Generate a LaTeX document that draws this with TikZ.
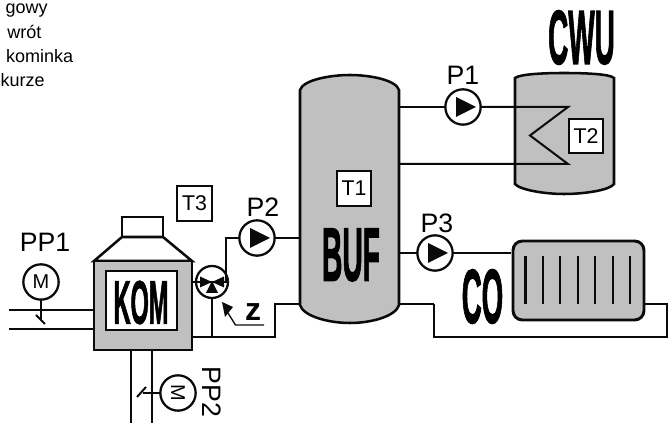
\documentclass[tikz,border=0pt]{standalone}
\usepackage{fontspec}
\setmainfont{Liberation Sans}
\newfontfamily\heavyf[UprightFont=* Bold,FakeBold=2]{Liberation Sans}
\definecolor{tankgray}{RGB}{192,192,192}
\definecolor{inkc}{RGB}{10,10,10}
\tikzset{
  pipe/.style={draw=inkc,line width=2pt,line join=miter},
  pipethin/.style={draw=inkc,line width=1.5pt,line join=miter},
  outline/.style={draw=inkc,line width=1.9pt,fill=tankgray},
  circ/.style={circle,draw=inkc,line width=1.7pt,fill=white,minimum size=26.5pt,inner sep=0pt},
  tbox/.style={rectangle,draw=inkc,line width=1.7pt,fill=white,minimum size=26pt,inner sep=0pt,font=\fontsize{16}{16}\selectfont},
  lab/.style={inner sep=0pt,font=\fontsize{20}{20}\selectfont},
  big/.style={inner sep=0pt,font=\heavyf},
  tip/.style={fill=inkc,draw=none},
  capt/.style={anchor=base east,inner sep=0pt,font=\fontsize{13.5}{13.5}\selectfont}
}
\newcommand{\fitbig}[3]{\resizebox{#1pt}{#2pt}{#3}}
\begin{document}
\begin{tikzpicture}[x=0.75pt,y=-0.75pt]
\useasboundingbox (0,0) rectangle (668,423);
% pipes boiler
\draw[pipe] (9,310) -- (94,310);
\draw[pipe] (9,329) -- (94,329);
\draw[pipethin] (41,299) -- (41,319);
\draw[pipethin] (36,315) -- (45,324);
\draw[pipethin] (131,350) -- (131,423);
\draw[pipethin] (152,350) -- (152,423);
\coordinate (ppb) at (143,393);
\draw[pipethin] (ppb) -- (161,393);
\draw[pipethin] (137,397) -- (146,387);
% BOILER
\draw[outline,fill=white] (122,237) rectangle (163,217);
\draw[outline,fill=white] (94,261) -- (122,237) -- (163,237) -- (192,261) -- cycle;
\node[draw=inkc,line width=1.9pt,fill=tankgray,minimum width=73.5pt,minimum height=66.75pt,inner sep=0pt] (kom) at (143,305.5) {};
\node[draw=inkc,line width=1.9pt,fill=white,minimum width=53.25pt,minimum height=44.25pt,inner sep=0pt] (kombox) at (141.5,300.5) {};
\node[big] (komt) at (141,302.5) {\fitbig{41}{32}{KOM}};
% motors
\node[circ] (pp1) at (41,282) {\fontsize{15}{15}\selectfont M};
\node[circ] (pp2) at (178,393) {\rotatebox{-90}{\fontsize{15}{15}\selectfont M}};
\node[lab] (pp1t) at (45,242) {PP1};
\node[lab,rotate=-90] (pp2t) at (212,392) {PP2};
\node[tbox] (t3) at (194.5,203.5) {T3};
% mixer lines
\coordinate (retA) at (275,337);
\coordinate (retB) at (275,304);
\draw[pipe] (192,337) -- (retA) -- (retB) -- (300,304);
\draw[pipethin] (212,337) -- (212,292);
\node[circ,minimum size=24pt] (mix) at (212,282) {};
\draw[pipe] (226,282) -- (226,238) -- (239,238);
\fill[tip] (212,282) -- (200,276.5) -- (200,287.5) -- cycle;
\fill[tip] (212,282) -- (224,276.5) -- (224,287.5) -- cycle;
\fill[tip] (212,281) -- (206,293) -- (218,293) -- cycle;
\draw[pipe] (193,282) -- (227,282);
% z
\fill[tip] (222,302) -- (233,307) -- (225,317) -- cycle;
\draw[draw=inkc,line width=1pt] (228,313) -- (235.5,325) -- (264,325);
\node[inner sep=0pt,font=\bfseries\fontsize{24}{24}\selectfont] (z) at (253,312) {z};
% P2
\draw[pipe] (275,238) -- (300,238);
\node[circ] (p2) at (257,238) {};
\fill[tip] (250,228) -- (270,238) -- (250,248) -- cycle;
\node[lab] (p2t) at (263,207) {P2};
% BUF tank
\draw[outline] (300,90) .. controls (303,80) and (330,75) .. (350,75) .. controls (370,75) and (396,80) .. (399,90) -- (399,305) .. controls (396,316) and (372,323) .. (350,323) .. controls (328,323) and (303,316) .. (300,305) -- cycle;
\node[tbox] (t1) at (354,188.5) {T1};
\node[big] (buft) at (351,255) {\fitbig{43.5}{39}{BUF}};
% CWU tank
\draw[outline] (515,78) .. controls (520,74) and (545,73) .. (564,73) .. controls (585,73) and (610,74) .. (614,78) -- (614,184) .. controls (610,190) and (585,194) .. (564,194) .. controls (545,194) and (520,190) .. (515,184) -- cycle;
\node[big] (cwut) at (581.5,37.5) {\fitbig{50}{40}{CWU}};
% P1 lines
\draw[pipethin] (399,107) -- (445,107);
\draw[pipethin] (481,107) -- (568,107) -- (530,135.5) -- (568,164) -- (399,164);
\node[circ] (p1) at (463,107) {};
\fill[tip] (456,97) -- (476,107) -- (456,117) -- cycle;
\node[lab] (p1t) at (463,75) {P1};
\node[tbox] (t2) at (586,136) {T2};
% P3 and radiator
\draw[pipethin] (399,253) -- (417,253);
\draw[pipe] (453,253) -- (511,253);
\node[circ] (p3) at (435,253) {};
\fill[tip] (428,243) -- (448,253) -- (428,263) -- cycle;
\node[lab] (p3t) at (437,223) {P3};
\draw[pipe] (399,304) -- (434,304);
\draw[pipethin] (434,304) -- (434,337) -- (667,337) -- (667,304) -- (644,304);
\draw[outline,line width=2.2pt,rounded corners=7pt] (513,241) rectangle (644,320);
\foreach \bx in {525.7,543,560,578,595,613,630} \draw[draw=inkc,line width=2pt] (\bx,256) -- (\bx,304);
\node[big] (cot) at (482.5,296.5) {\fitbig{31}{40}{CO}};
% caption
\node[capt] (c1) at (48,14) {gowy};
\node[capt] (c2) at (41.7,39) {wrót};
\node[capt] (c3) at (73.5,63) {kominka};
\node[capt] (c4) at (45,87) {kurze};
\end{tikzpicture}
\end{document}
